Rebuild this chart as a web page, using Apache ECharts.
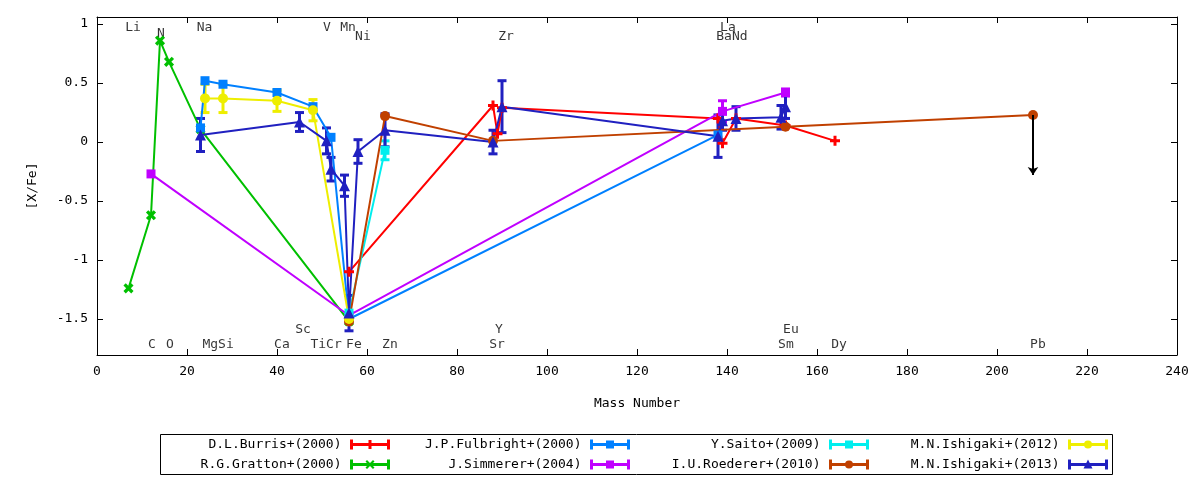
<!DOCTYPE html>
<html>
<head>
<meta charset="utf-8">
<title>[X/Fe]</title>
<script src="https://cdn.jsdelivr.net/npm/echarts@6/dist/echarts.min.js"></script>
<style>
html, body { margin: 0; padding: 0; background: #fff; }
#main { width: 1200px; height: 480px; }
</style>
</head>
<body>
<div id="main"></div>
<script>
// each point: [mass number, [X/Fe], error]
var burris = [[56, -1.10, 0], [88, 0.31, 0], [89, 0.07, 0], [90, 0.29, 0], [138, 0.20, 0],
    [139, -0.01, 0], [142, 0.20, 0], [153, 0.14, 0], [164, 0.01, 0]];
var gratton = [[7, -1.24, 0], [12, -0.62, 0], [14, 0.86, 0], [16, 0.68, 0], [23, 0.11, 0], [56, -1.52, 0]];
var fulbright = [[23, 0.12, 0], [24, 0.52, 0], [28, 0.49, 0], [40, 0.42, 0], [48, 0.30, 0],
    [52, 0.04, 0], [56, -1.50, 0], [138, 0.06, 0]];
var simmerer = [[12, -0.27, 0], [56, -1.47, 0], [139, 0.26, 0.09], [153, 0.42, 0.03]];
var saito = [[56, -1.45, 0], [64, -0.07, 0.08]];
var roederer = [[56, -1.52, 0], [64, 0.22, 0], [88, 0.01, 0], [153, 0.13, 0], [208, 0.23, 0]];
var ishigaki12 = [[24, 0.37, 0.12], [28, 0.37, 0.12], [40, 0.35, 0.09], [48, 0.27, 0.09], [56, -1.50, 0]];
var ishigaki13 = [[23, 0.06, 0.14], [45, 0.17, 0.08], [51, 0.01, 0.11], [52, -0.23, 0.10],
    [55, -0.37, 0.09], [56, -1.45, 0.15], [58, -0.08, 0.10], [64, 0.10, 0.14], [88, 0.00, 0.10],
    [90, 0.30, 0.22], [138, 0.05, 0.18], [139, 0.18, 0.08], [142, 0.20, 0.10], [152, 0.21, 0.10],
    [153, 0.30, 0.10]];
// Pb upper limit: [mass number, from, to]
var pbLimit = [208, 0.23, -0.28];

var yTicks = [-1.5, -1, -0.5, 0, 0.5, 1];

// element names written in the plot: [mass number, [X/Fe], text]
var elementLabels = [
    [8.0, 0.97, 'Li'], [14.2, 0.92, 'N'], [23.9, 0.97, 'Na'], [51.1, 0.97, 'V'], [55.8, 0.97, 'Mn'],
    [59.1, 0.89, 'Ni'], [90.9, 0.89, 'Zr'], [140.2, 0.97, 'La'], [141.1, 0.89, 'BaNd'],
    [45.8, -1.59, 'Sc'], [89.3, -1.59, 'Y'], [154.2, -1.59, 'Eu'],
    [12.2, -1.72, 'C'], [16.2, -1.72, 'O'], [26.9, -1.72, 'MgSi'], [41.1, -1.72, 'Ca'],
    [50.9, -1.72, 'TiCr'], [57.1, -1.72, 'Fe'], [65.1, -1.72, 'Zn'], [88.9, -1.72, 'Sr'],
    [153.1, -1.72, 'Sm'], [164.9, -1.72, 'Dy'], [209.1, -1.72, 'Pb']
];

var font = 'DejaVu Sans Mono';
var plusPath = 'path://M3.5,0h3v3.5h3.5v3h-3.5v3.5h-3v-3.5h-3.5v-3h3.5z';

// legend sample: error bar with caps and the point marker in the middle
var bar = 'M0,0h3v10h-3z M0,3.5h40v3h-40z M37,0h3v10h-3z ';
var iconPlus = 'path://' + bar + 'M15.5,3.5h9v3h-9z M18.5,0.5h3v9h-3z';
var iconCross = 'path://' + bar + 'M15.5,2L17,0.5L20,3.5L23,0.5L24.5,2L21.5,5L24.5,8L23,9.5L20,6.5L17,9.5L15.5,8L18.5,5Z';
var iconSquare = 'path://' + bar + 'M16,1h8v8h-8z';
var iconCircle = 'path://' + bar + 'M16,5a4,4 0 1,1 8,0a4,4 0 1,1 -8,0z';
var iconTriangle = 'path://' + bar + 'M20,0L24.5,9L15.5,9Z';

var studies = [
    { name: 'D.L.Burris+(2000)', data: burris, color: '#ff0000', symbol: plusPath, rotate: 0, size: 10, icon: iconPlus },
    { name: 'R.G.Gratton+(2000)', data: gratton, color: '#00c000', symbol: plusPath, rotate: 45, size: 11, icon: iconCross },
    { name: 'J.P.Fulbright+(2000)', data: fulbright, color: '#0080ff', symbol: 'rect', rotate: 0, size: 9, icon: iconSquare },
    { name: 'J.Simmerer+(2004)', data: simmerer, color: '#c000ff', symbol: 'rect', rotate: 0, size: 9, icon: iconSquare },
    { name: 'Y.Saito+(2009)', data: saito, color: '#00eeee', symbol: 'rect', rotate: 0, size: 9, icon: iconSquare },
    { name: 'I.U.Roederer+(2010)', data: roederer, color: '#c04000', symbol: 'circle', rotate: 0, size: 10, icon: iconCircle },
    { name: 'M.N.Ishigaki+(2012)', data: ishigaki12, color: '#eeee00', symbol: 'circle', rotate: 0, size: 10, icon: iconCircle },
    { name: 'M.N.Ishigaki+(2013)', data: ishigaki13, color: '#2020c0', symbol: 'triangle', rotate: 0, size: 11, icon: iconTriangle }
];

function errorBars(color) {
    return function (params, api) {
        var x = api.value(0), y = api.value(1), e = api.value(2);
        var top = api.coord([x, y + e]);
        var bot = api.coord([x, y - e]);
        var w = 4.5;
        var style = { stroke: color, lineWidth: 3 };
        return {
            type: 'group',
            children: [
                { type: 'line', shape: { x1: top[0], y1: top[1], x2: bot[0], y2: bot[1] }, style: style },
                { type: 'line', shape: { x1: top[0] - w, y1: top[1], x2: top[0] + w, y2: top[1] }, style: style },
                { type: 'line', shape: { x1: bot[0] - w, y1: bot[1], x2: bot[0] + w, y2: bot[1] }, style: style }
            ]
        };
    };
}

var series = [];
series.push({
    type: 'scatter',
    silent: true,
    symbolSize: 1,
    itemStyle: { color: 'rgba(0,0,0,0)' },
    label: { show: true, position: 'inside', formatter: '{b}', color: '#000', fontFamily: font, fontSize: 13 },
    data: elementLabels.map(function (l) { return { name: l[2], value: [l[0], l[1]] }; })
});
studies.forEach(function (s) {
    var line = {
        name: s.name,
        type: 'line',
        data: s.data.map(function (p) { return [p[0], p[1]]; }),
        symbol: s.symbol,
        symbolSize: s.size,
        symbolRotate: s.rotate,
        showAllSymbol: true,
        lineStyle: { color: s.color, width: 2 },
        itemStyle: { color: s.color },
        emphasis: { disabled: true }
    };
    if (s.data === roederer) {
        line.markLine = {
            silent: true,
            symbol: ['none', 'arrow'],
            symbolSize: 8,
            label: { show: false },
            lineStyle: { color: '#000', width: 2, type: 'solid' },
            data: [[{ coord: [pbLimit[0], pbLimit[1]] }, { coord: [pbLimit[0], pbLimit[2]] }]]
        };
    }
    series.push({
        name: s.name + ' err',
        type: 'custom',
        silent: true,
        renderItem: errorBars(s.color),
        data: s.data.filter(function (p) { return p[2] > 0; })
    });
    series.push(line);
});

function legendColumn(names, right) {
    return {
        orient: 'vertical',
        align: 'right',
        right: right,
        top: 438,
        padding: 0,
        itemGap: 7,
        itemWidth: 43,
        itemHeight: 10,
        selectedMode: false,
        itemStyle: { borderWidth: 0 },
        textStyle: { color: '#000', fontFamily: font, fontSize: 13, padding: [0, 2, 0, 0] },
        data: names.map(function (n) {
            var s = studies.filter(function (t) { return t.name === n; })[0];
            return { name: n, icon: s.icon };
        })
    };
}

var frameLine = { show: true, onZero: false, lineStyle: { color: '#000', width: 1 } };

var chart = echarts.init(document.getElementById('main'));
var option = {
    animation: false,
    backgroundColor: '#fff',
    textStyle: { fontFamily: font },
    grid: { left: 97, right: 23, top: 17, bottom: 125 },
    xAxis: [
        {
            type: 'value', min: 0, max: 240, interval: 20,
            name: 'Mass Number', nameLocation: 'middle', nameGap: 42,
            nameTextStyle: { color: '#000', fontFamily: font, fontSize: 13 },
            axisLine: frameLine,
            axisTick: { show: true, inside: true, length: 6, lineStyle: { color: '#000' } },
            axisLabel: { color: '#000', fontFamily: font, fontSize: 13, margin: 10 },
            splitLine: { show: false }
        },
        {
            type: 'value', position: 'top', min: 0, max: 240, interval: 20,
            axisLine: frameLine,
            axisTick: { show: true, inside: true, length: 6, lineStyle: { color: '#000' } },
            axisLabel: { show: false },
            splitLine: { show: false }
        }
    ],
    yAxis: [
        {
            type: 'value', min: -1.805, max: 1.06,
            name: '[X/Fe]', nameLocation: 'middle', nameGap: 58,
            nameTextStyle: { color: '#000', fontFamily: font, fontSize: 13 },
            axisLine: frameLine,
            axisTick: { show: true, inside: true, length: 6, customValues: yTicks, lineStyle: { color: '#000' } },
            axisLabel: { color: '#000', fontFamily: font, fontSize: 13, margin: 9, customValues: yTicks },
            splitLine: { show: false }
        },
        {
            type: 'value', position: 'right', min: -1.805, max: 1.06,
            axisLine: frameLine,
            axisTick: { show: true, inside: true, length: 6, customValues: yTicks, lineStyle: { color: '#000' } },
            axisLabel: { show: false, customValues: yTicks },
            splitLine: { show: false }
        }
    ],
    legend: [
        legendColumn(['D.L.Burris+(2000)', 'R.G.Gratton+(2000)'], 810),
        legendColumn(['J.P.Fulbright+(2000)', 'J.Simmerer+(2004)'], 570),
        legendColumn(['Y.Saito+(2009)', 'I.U.Roederer+(2010)'], 331),
        legendColumn(['M.N.Ishigaki+(2012)', 'M.N.Ishigaki+(2013)'], 92)
    ],
    graphic: [
        {
            type: 'rect', silent: true,
            shape: { x: 160.5, y: 434.5, width: 952, height: 40 },
            style: { fill: 'none', stroke: '#000', lineWidth: 1 }
        }
    ],
    series: series
};
chart.setOption(option);
</script>
</body>
</html>
